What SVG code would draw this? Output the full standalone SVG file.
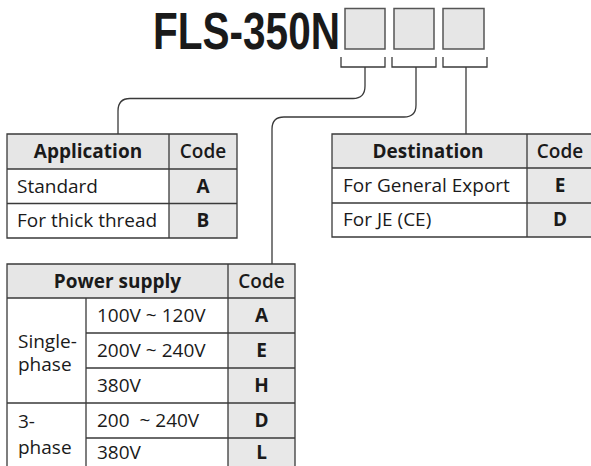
<svg xmlns="http://www.w3.org/2000/svg" width="591" height="466" viewBox="0 0 591 466">
<style>
.t{font-family:"Open Sans","Noto Sans","Liberation Sans",sans-serif;font-size:19px;fill:#1a1a1a}
.b{font-weight:bold}
.s{font-weight:600}
.m{text-anchor:middle}
.hd{fill:#e6e6e6}
.cd{fill:#e8e8e8}
.wt{fill:#ffffff}
.ln{stroke:#3a3a3a;stroke-width:1.3;fill:none}
.box{fill:#e6e6e6;stroke:#555;stroke-width:1.5}
.pre{white-space:pre}
</style>
<rect width="591" height="466" fill="#fff"/>
<g id="title">
<text x="153" y="49" font-family="'Liberation Sans',Arial,sans-serif" font-weight="bold" font-size="52" fill="#1a1a1a" textLength="187" lengthAdjust="spacingAndGlyphs">FLS-350N</text>
<rect class="box" x="345" y="8.5" width="40" height="40.5"/>
<rect class="box" x="394" y="8.5" width="40" height="40.5"/>
<rect class="box" x="443" y="8.5" width="41" height="40.5"/>
</g>
<g id="connectors">
<path class="ln" d="M341,57 V67 H385 V57"/>
<path class="ln" d="M392,57 V67 H436 V57"/>
<path class="ln" d="M443,57 V67 H487 V57"/>
<path class="ln" d="M365,67 V86 Q365,98.5 353,98.5 H130 Q118,98.5 118,111 V134"/>
<path class="ln" d="M416,67 V105 Q416,117 404,117 H284 Q272,117 272,129 V264"/>
<path class="ln" d="M466,67 V134"/>
</g>
<g id="application">
<rect class="hd" x="7" y="134" width="230" height="35"/>
<rect class="wt" x="7" y="169" width="162" height="69"/>
<rect class="cd" x="169" y="169" width="68" height="69"/>
<path class="ln" d="M7,134 H237 V238 H7 Z M7,169 H237 M7,203.5 H237 M169,134 V238"/>
<text class="t b m" x="88" y="158">Application</text>
<text class="t s m" x="203" y="158">Code</text>
<text class="t" x="17" y="193">Standard</text>
<text class="t b m" x="203" y="193">A</text>
<text class="t" x="17" y="227">For thick thread</text>
<text class="t b m" x="203" y="227">B</text>
</g>
<g id="destination">
<rect class="hd" x="332" y="134" width="262" height="34"/>
<rect class="wt" x="332" y="168" width="195" height="69"/>
<rect class="cd" x="527" y="168" width="67" height="69"/>
<path class="ln" d="M594,134 H332 V237 H594 M332,168 H594 M332,203 H594 M527,134 V237"/>
<text class="t b m" x="428" y="158">Destination</text>
<text class="t s m" x="560" y="158">Code</text>
<text class="t" x="343" y="192">For General Export</text>
<text class="t b m" x="560" y="192">E</text>
<text class="t" x="343" y="226">For JE (CE)</text>
<text class="t b m" x="560" y="226">D</text>
</g>
<g id="power">
<rect class="hd" x="7" y="264" width="288" height="34"/>
<rect class="wt" x="7" y="298" width="221" height="170"/>
<rect class="cd" x="228" y="298" width="67" height="170"/>
<path class="ln" d="M7,470 V264 H295 V470 M7,298 H295 M86,333 H295 M86,368 H295 M7,403 H295 M86,438 H295 M86,298 V470 M228,264 V470"/>
<text class="t b m" x="117.5" y="288">Power supply</text>
<text class="t s m" x="261.5" y="288">Code</text>
<text class="t" x="18" y="348">Single-</text>
<text class="t" x="18" y="371">phase</text>
<text class="t" x="97" y="322">100V ~ 120V</text>
<text class="t b m" x="261.5" y="322">A</text>
<text class="t" x="97" y="357">200V ~ 240V</text>
<text class="t b m" x="261.5" y="357">E</text>
<text class="t" x="97" y="392">380V</text>
<text class="t b m" x="261.5" y="392">H</text>
<text class="t" x="18" y="428">3-</text>
<text class="t" x="18" y="454">phase</text>
<text class="t pre" x="97" y="427">200  ~ 240V</text>
<text class="t b m" x="261.5" y="427">D</text>
<text class="t" x="97" y="459">380V</text>
<text class="t b m" x="261.5" y="459">L</text>
</g>
</svg>
